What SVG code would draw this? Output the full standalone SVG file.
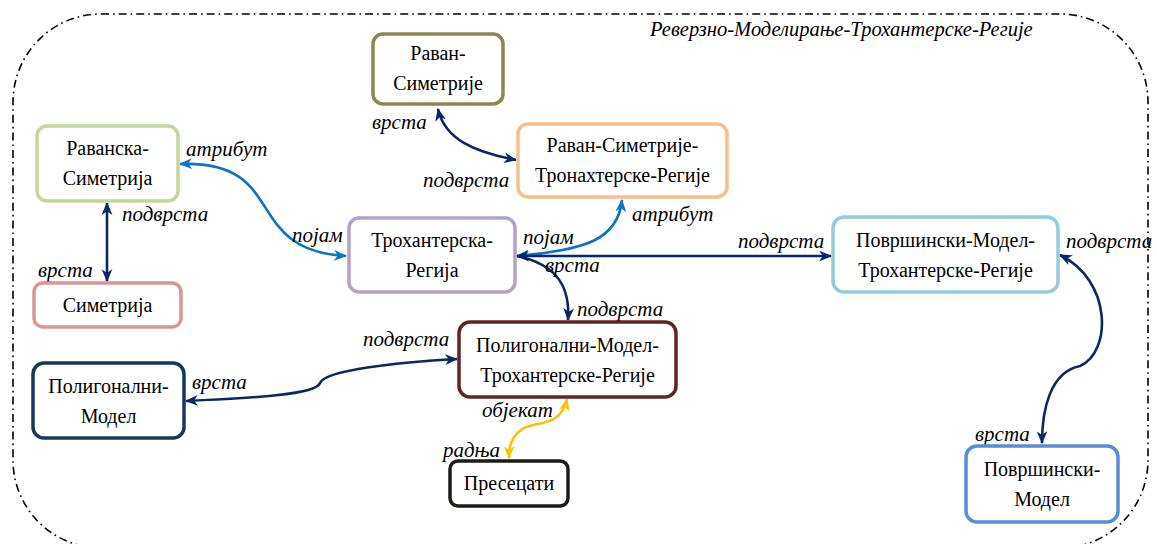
<svg xmlns="http://www.w3.org/2000/svg" width="1157" height="544" viewBox="0 0 1157 544">
  <style>
    .box { fill: #ffffff; stroke-width: 3.5; }
    .lbl { font-family: "Liberation Serif", "Times New Roman", serif; font-size: 20px; fill: #000; text-anchor: middle; }
    .edge-lbl { font-family: "Liberation Serif", "Times New Roman", serif; font-size: 21px; font-style: italic; fill: #000; }
    .title { font-family: "Liberation Serif", "Times New Roman", serif; font-size: 20.5px; font-style: italic; fill: #000; }
    .c { fill: none; stroke-width: 2.6; }
    .navy { stroke: #0b2566; }
    .blue { stroke: #0a74c4; }
    .gold { stroke: #ffc000; }
  </style>
  <defs>
    <marker id="arrNavy" viewBox="0 0 12 10" refX="11" refY="5" markerWidth="13" markerHeight="11" markerUnits="userSpaceOnUse" orient="auto-start-reverse">
      <path d="M0,0 L12,5 L0,10 L3.5,5 Z" fill="#0b2566"/>
    </marker>
    <marker id="arrBlue" viewBox="0 0 12 10" refX="11" refY="5" markerWidth="13" markerHeight="11" markerUnits="userSpaceOnUse" orient="auto-start-reverse">
      <path d="M0,0 L12,5 L0,10 L3.5,5 Z" fill="#0a74c4"/>
    </marker>
    <marker id="arrGold" viewBox="0 0 12 10" refX="11" refY="5" markerWidth="13" markerHeight="11" markerUnits="userSpaceOnUse" orient="auto-start-reverse">
      <path d="M0,0 L12,5 L0,10 L3.5,5 Z" fill="#ffc000"/>
    </marker>
  </defs>

  <!-- enclosing frame -->
  <g id="frame">
    <rect x="13" y="14" width="1135" height="534" rx="88" ry="88" fill="none" stroke="#000" stroke-width="1.6" stroke-dasharray="8 4 1.6 4"/>
    <text class="title" x="650" y="36">Реверзно-Моделирање-Трохантерске-Регије</text>
  </g>

  <!-- connectors -->
  <g id="connectors">
    <path class="c navy" d="M438,109 C 445,140 475,152 516,160" marker-start="url(#arrNavy)" marker-end="url(#arrNavy)"/>
    <path class="c blue" d="M180,164 C 290,160 240,250 346,256" marker-start="url(#arrBlue)" marker-end="url(#arrBlue)"/>
    <path class="c navy" d="M107,203 L107,281" marker-start="url(#arrNavy)" marker-end="url(#arrNavy)"/>
    <path class="c blue" d="M517,256 C 585,250 618,240 622,200" marker-start="url(#arrBlue)" marker-end="url(#arrBlue)"/>
    <path class="c navy" d="M517,256 L831,256" marker-start="url(#arrNavy)" marker-end="url(#arrNavy)"/>
    <path class="c navy" d="M517,256 C 560,265 570,290 568,320" marker-end="url(#arrNavy)"/>
    <path class="c navy" d="M1060,255 C 1112,280 1112,352 1080,366 C 1050,372 1042,410 1042,443" marker-start="url(#arrNavy)" marker-end="url(#arrNavy)"/>
    <path class="c navy" d="M186,401 C 250,398 316,395 320,383 C 325,370 400,362 457,359" marker-start="url(#arrNavy)" marker-end="url(#arrNavy)"/>
    <path class="c gold" d="M567,399 C 560,430 532,420 521,430 C 511,438 509,446 509,458" marker-start="url(#arrGold)" marker-end="url(#arrGold)"/>
  </g>

  <!-- connector labels -->
  <g id="connector-labels">
    <text class="edge-lbl" x="372" y="129">врста</text>
    <text class="edge-lbl" x="423" y="187">подврста</text>
    <text class="edge-lbl" x="186" y="156">атрибут</text>
    <text class="edge-lbl" x="292" y="242">појам</text>
    <text class="edge-lbl" x="122" y="221">подврста</text>
    <text class="edge-lbl" x="38" y="277">врста</text>
    <text class="edge-lbl" x="523" y="244">појам</text>
    <text class="edge-lbl" x="632" y="221">атрибут</text>
    <text class="edge-lbl" x="738" y="248">подврста</text>
    <text class="edge-lbl" x="545" y="272">врста</text>
    <text class="edge-lbl" x="577" y="316">подврста</text>
    <text class="edge-lbl" x="1066" y="248">подврста</text>
    <text class="edge-lbl" x="975" y="441">врста</text>
    <text class="edge-lbl" x="363" y="346">подврста</text>
    <text class="edge-lbl" x="192" y="389">врста</text>
    <text class="edge-lbl" x="482" y="417">објекат</text>
    <text class="edge-lbl" x="443" y="457">радња</text>
  </g>

  <g id="node-raven-simetrije">
    <rect class="box" x="373" y="34" width="130" height="70" rx="10" stroke="#8c8653"/>
    <text class="lbl" x="438" y="60">Раван-</text>
    <text class="lbl" x="438" y="90">Симетрије</text>
  </g>
  <g id="node-raven-simetrije-tr">
    <rect class="box" x="518" y="124" width="209" height="73" rx="10" stroke="#f9be8c"/>
    <text class="lbl" x="622.5" y="152">Раван-Симетрије-</text>
    <text class="lbl" x="622.5" y="182">Тронахтерске-Регије</text>
  </g>
  <g id="node-ravanska-simetrija">
    <rect class="box" x="37" y="126" width="141" height="75" rx="10" stroke="#c3d69b"/>
    <text class="lbl" x="107.5" y="155">Раванска-</text>
    <text class="lbl" x="107.5" y="185">Симетрија</text>
  </g>
  <g id="node-simetrija">
    <rect class="box" x="34" y="283" width="147" height="44" rx="9" stroke="#d99694"/>
    <text class="lbl" x="107.5" y="312">Симетрија</text>
  </g>
  <g id="node-trohanterska-regija">
    <rect class="box" x="349" y="218" width="166" height="74" rx="10" stroke="#b3a2c7"/>
    <text class="lbl" x="432" y="247">Трохантерска-</text>
    <text class="lbl" x="432" y="277">Регија</text>
  </g>
  <g id="node-povrsinski-model-tr">
    <rect class="box" x="833" y="217" width="225" height="75" rx="11" stroke="#93cddd"/>
    <text class="lbl" x="945.5" y="247">Површински-Модел-</text>
    <text class="lbl" x="945.5" y="277">Трохантерске-Регије</text>
  </g>
  <g id="node-povrsinski-model">
    <rect class="box" x="966" y="446" width="152" height="76" rx="11" stroke="#558ed5"/>
    <text class="lbl" x="1042" y="476">Површински-</text>
    <text class="lbl" x="1042" y="506">Модел</text>
  </g>
  <g id="node-poligonalni-model-tr">
    <rect class="box" x="459" y="322" width="217" height="75" rx="11" stroke="#632523"/>
    <text class="lbl" x="567.5" y="352">Полигонални-Модел-</text>
    <text class="lbl" x="567.5" y="382">Трохантерске-Регије</text>
  </g>
  <g id="node-poligonalni-model">
    <rect class="box" x="33" y="363" width="151" height="75" rx="11" stroke="#17375e"/>
    <text class="lbl" x="108.5" y="393">Полигонални-</text>
    <text class="lbl" x="108.5" y="423">Модел</text>
  </g>
  <g id="node-presecati">
    <rect class="box" x="450" y="461" width="118" height="45" rx="8" stroke="#1f1a17"/>
    <text class="lbl" x="509" y="490">Пресецати</text>
  </g>
</svg>
